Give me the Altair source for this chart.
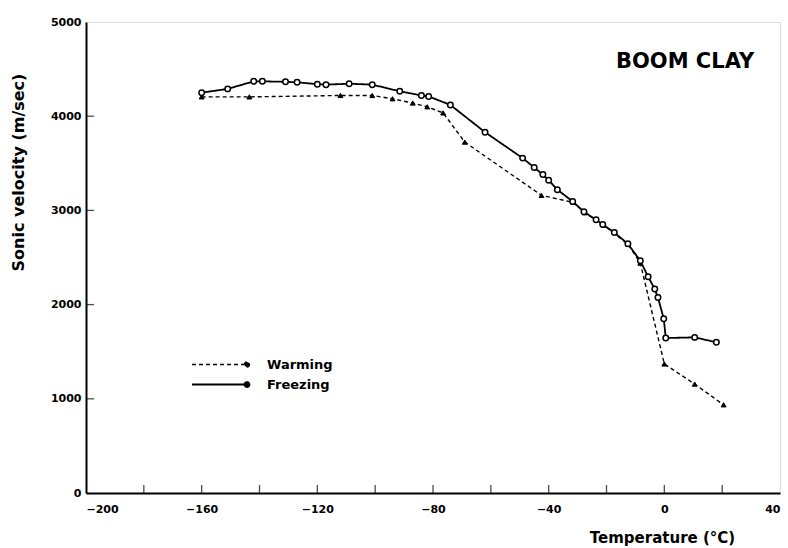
import altair as alt
import pandas as pd

# Freezing run (open circles, solid line)
freeze_t = [-160, -151, -142, -139, -131, -127, -120, -117, -109, -101, -91.5, -84, -81.5, -74,
            -62, -49, -45, -42, -40, -37, -31.7, -27.8, -23.6, -21.3, -17.3, -12.6, -8.3, -5.6,
            -3.3, -2.2, -0.2, 0.5, 10.5, 18]
freeze_v = [4250, 4290, 4370, 4370, 4365, 4360, 4340, 4335, 4345, 4335, 4265, 4220, 4210, 4120,
            3830, 3555, 3455, 3380, 3320, 3220, 3095, 2985, 2900, 2850, 2765, 2645, 2465, 2295,
            2165, 2075, 1850, 1645, 1652, 1600]

# Warming run (filled markers, dashed line)
warm_t = [-160, -143.5, -112, -101, -94, -87, -82, -76.5, -69, -42.5, -31.5, -27.5, -21,
          -12.5, -8.3, 0, 10.5, 20.5]
warm_v = [4205, 4205, 4220, 4220, 4185, 4140, 4100, 4035, 3725, 3160, 3085, 2975, 2845,
          2640, 2440, 1370, 1156, 936]

series_order = ["Warming", "Freezing"]
x_ticks = [-180, -160, -140, -120, -100, -80, -60, -40, -20, 0, 20]
x_labels = [-200, -160, -120, -80, -40, 0, 40]
y_labels = [0, 1000, 2000, 3000, 4000, 5000]
panel_label = "BOOM CLAY"

rows = []
for i, (t, v) in enumerate(zip(warm_t, warm_v)):
    rows.append({"series": "Warming", "temp": t, "vel": v, "idx": i})
for i, (t, v) in enumerate(zip(freeze_t, freeze_v)):
    rows.append({"series": "Freezing", "temp": t, "vel": v, "idx": i})
df = pd.DataFrame(rows)

FONT = "DejaVu Sans"
W, H = 694, 471

xscale = alt.Scale(domain=[-200, 40], nice=False, zero=False)
yscale = alt.Scale(domain=[0, 5000], nice=False)

xaxis = alt.Axis(values=x_labels, format="d", title="Temperature (°C)", grid=False, ticks=False,
                 domainColor="black", domainWidth=2, labelFont=FONT, labelFontSize=11,
                 labelFontWeight="bold", labelColor="black", labelPadding=10,
                 titleFont=FONT, titleFontSize=15, titleFontWeight="bold", titleColor="black",
                 titleX=576, titleY=44, titleBaseline="middle", titleAlign="center")
yaxis = alt.Axis(values=y_labels, format="d", title="Sonic velocity (m/sec)", grid=False, ticks=False,
                 domainColor="black", domainWidth=2, labelFont=FONT, labelFontSize=11,
                 labelFontWeight="bold", labelColor="black", labelPadding=5,
                 titleFont=FONT, titleFontSize=16, titleFontWeight="bold", titleColor="black",
                 titleX=-68, titleY=150, titleBaseline="middle", titleAlign="center", titleAngle=-90)

base = alt.Chart(df)

legend_symbol = "M-5,0H5M5.45,0A0.45,0.45,0,1,1,4.55,0A0.45,0.45,0,1,1,5.45,0Z"

lines = base.mark_line(color="black").encode(
    x=alt.X("temp:Q", scale=xscale, axis=xaxis),
    y=alt.Y("vel:Q", scale=yscale, axis=yaxis),
    strokeDash=alt.StrokeDash(
        "series:N",
        scale=alt.Scale(domain=series_order, range=[[4, 3], [1, 0]]),
        legend=alt.Legend(
            title=None, orient="none", legendX=127, legendY=336,
            symbolType=legend_symbol, symbolSize=121, symbolStrokeColor="black",
            symbolStrokeWidth=1.6, symbolFillColor="black",
            labelFont=FONT, labelFontSize=13, labelFontWeight="bold", labelColor="black",
            labelOffset=41, rowPadding=6, padding=0,
        ),
    ),
    strokeWidth=alt.StrokeWidth("series:N", scale=alt.Scale(domain=series_order, range=[1.4, 1.8]),
                                legend=None),
    order="idx:Q",
)

warm_pts = base.transform_filter(alt.datum.series == "Warming").mark_point(
    shape="triangle-up", filled=True, fill="black", stroke="black", strokeWidth=1, size=24, opacity=1
).encode(x=alt.X("temp:Q", scale=xscale), y=alt.Y("vel:Q", scale=yscale))

freeze_pts = base.transform_filter(alt.datum.series == "Freezing").mark_point(
    shape="circle", filled=True, fill="white", stroke="black", strokeWidth=1.5, size=30, opacity=1
).encode(x=alt.X("temp:Q", scale=xscale), y=alt.Y("vel:Q", scale=yscale))

tick_df = pd.DataFrame({"t": x_ticks})
xticks = alt.Chart(tick_df).mark_tick(color="black", thickness=1.3, size=8).encode(
    x=alt.X("t:Q", scale=xscale),
    y=alt.value(H - 4),
)

ytick_df = pd.DataFrame({"v": y_labels[1:-1]})
yticks = alt.Chart(ytick_df).mark_tick(color="black", thickness=1.3, size=8).encode(
    y=alt.Y("v:Q", scale=yscale),
    x=alt.value(4),
)

label_df = pd.DataFrame({"text": [panel_label]})
label = alt.Chart(label_df).mark_text(font=FONT, fontSize=21, fontWeight="bold", color="black",
                                       align="center", baseline="middle").encode(
    text="text:N", x=alt.value(599), y=alt.value(40)
)

chart = alt.layer(lines, warm_pts, freeze_pts, xticks, yticks, label).properties(
    width=W, height=H,
    autosize=alt.AutoSizeParams(type="none"),
    padding={"left": 86, "top": 22, "right": 8, "bottom": 55},
).configure_view(stroke="black", strokeWidth=2).configure(background="white")

chart.save("out.html", embed_options={"renderer": "svg", "actions": False})
